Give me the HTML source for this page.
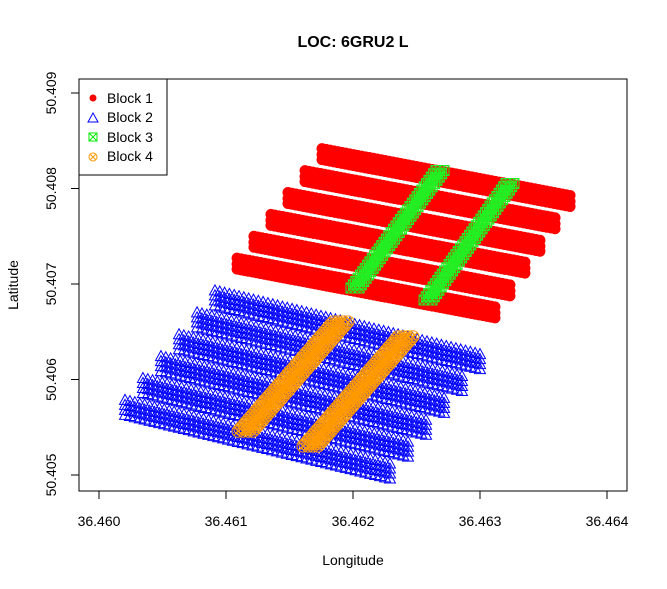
<!DOCTYPE html>
<html><head><meta charset="utf-8"><style>
body{margin:0;background:#fff}
svg{display:block;font-family:"Liberation Sans",Arial,sans-serif}
</style></head><body>
<svg id="chart" width="667" height="589" viewBox="0 0 667 589">
<text x="353" y="47" text-anchor="middle" font-size="16" font-weight="bold">LOC: 6GRU2 L</text>
<g id="marks"></g>
<rect x="79" y="79" width="548" height="412" fill="none" stroke="#000" stroke-width="1"/>
<g id="xaxis"></g>
<g id="yaxis"></g>
<text x="353" y="565" text-anchor="middle" font-size="14">Longitude</text>
<text x="0" y="0" transform="translate(18,285) rotate(-90)" text-anchor="middle" font-size="14">Latitude</text>
<g>
<rect x="79" y="79" width="88" height="96" fill="#fff" stroke="#000"/>
<g><circle cx="93" cy="98" r="3.5" fill="#f00"/><text x="107" y="103" font-size="14">Block 1</text></g>
<g><path d="M93,113 L98,122 L88,122 Z" fill="none" stroke="#00f"/><text x="107" y="122" font-size="14">Block 2</text></g>
<g><rect x="89" y="133" width="8" height="8" fill="none" stroke="#0e0"/><path d="M89,133 L97,141 M97,133 L89,141" stroke="#0e0"/><text x="107" y="142" font-size="14">Block 3</text></g>
<g><circle cx="93" cy="157" r="4" fill="none" stroke="#f90"/><path d="M90,154 L96,160 M96,154 L90,160" stroke="#f90"/><text x="107" y="161" font-size="14">Block 4</text></g>
</g>
</svg>
<script>
const xTicks=[36.460,36.461,36.462,36.463,36.464];
const yTicks=[50.405,50.406,50.407,50.408,50.409];
// Block 1 rows (red): start/end lon/lat
const redStartLon=[36.461756,36.461622,36.461488,36.461354,36.461220,36.461087];
const redStartLat=[50.408365,50.408135,50.407906,50.407677,50.407448,50.407219];
const redEndLon=[36.463709,36.463591,36.463472,36.463354,36.463236,36.463118];
const redEndLat=[50.407875,50.407641,50.407406,50.407177,50.406938,50.406708];
// Block 2 rows (blue)
const blueStartLon=[36.460913,36.460772,36.460630,36.460488,36.460346,36.460205];
const blueStartLat=[50.406865,50.406635,50.406406,50.406177,50.405948,50.405719];
const blueEndLon=[36.463000,36.462858,36.462717,36.462575,36.462433,36.462291];
const blueEndLat=[50.406198,50.405969,50.405740,50.405510,50.405281,50.405052];
// Block 3 bands (green)
const greenStartLon=[36.462685,36.463236];
const greenStartLat=[50.408188,50.408052];
const greenEndLon=[36.462016,36.462591];
const greenEndLat=[50.406958,50.406833];
// Block 4 bands (orange)
const orangeStartLon=[36.461898,36.462409];
const orangeStartLat=[50.406604,50.406448];
const orangeEndLon=[36.461150,36.461661];
const orangeEndLat=[50.405458,50.405302];

const X=v=>99+(v-36.460)*127000;
const Y=v=>475-(v-50.405)*95500;
const NS='http://www.w3.org/2000/svg';
const mk=(t,a,p)=>{const e=document.createElementNS(NS,t);for(const k in a)e.setAttribute(k,a[k]);p.appendChild(e);return e;};
const xa=document.getElementById('xaxis'),ya=document.getElementById('yaxis'),marks=document.getElementById('marks');
mk('line',{x1:X(xTicks[0]),x2:X(xTicks[xTicks.length-1]),y1:491,y2:491,stroke:'#000'},xa);
xTicks.forEach(t=>{const x=X(t);
 mk('line',{x1:x,x2:x,y1:491,y2:499,stroke:'#000'},xa);
 const tx=mk('text',{x:x,y:526,'text-anchor':'middle','font-size':14},xa);tx.textContent=t.toFixed(3);
 
 });
mk('line',{x1:79,x2:79,y1:Y(yTicks[0]),y2:Y(yTicks[yTicks.length-1]),stroke:'#000'},ya);
yTicks.forEach(t=>{const y=Y(t);
 mk('line',{x1:71,x2:79,y1:y,y2:y,stroke:'#000'},ya);
 const tx=mk('text',{x:0,y:0,transform:`translate(56,${y}) rotate(-90)`,'text-anchor':'middle','font-size':14},ya);tx.textContent=t.toFixed(3);
 
 });

function drawSeries(sLon,sLat,eLon,eLat,offs,step,shape,name){
 const g=mk('g',{},marks);
 
 
 let d='';
 for(let i=0;i<sLon.length;i++){
  const x1=X(sLon[i]),y1=Y(sLat[i]),x2=X(eLon[i]),y2=Y(eLat[i]);
  const len=Math.hypot(x2-x1,y2-y1),n=Math.max(1,Math.round(len/step));
  offs.forEach(o=>{for(let k=0;k<=n;k++){const x=x1+(x2-x1)*k/n+o[0],y=y1+(y2-y1)*k/n+o[1];d+=shape(x,y);}});
 }
 return {g,d};
}
let r=drawSeries(redStartLon,redStartLat,redEndLon,redEndLat,[[0,-5],[0,1],[0,6]],4,(x,y)=>`M${x-5.5},${y}a5.5,5.5 0 1,0 11,0a5.5,5.5 0 1,0 -11,0`,'block-1-points');
mk('path',{d:r.d,fill:'#f00'},r.g);
let b=drawSeries(blueStartLon,blueStartLat,blueEndLon,blueEndLat,[[0,-6],[0,-1],[0,4],[0,9]],5,(x,y)=>`M${x},${y-6}L${x+5.5},${y+4}L${x-5.5},${y+4}Z`,'block-2-points');
mk('path',{d:b.d,fill:'none',stroke:'#00f','stroke-width':1},b.g);
let gr=drawSeries(greenStartLon,greenStartLat,greenEndLon,greenEndLat,[[-4,0],[0,0],[4,0]],4,(x,y)=>`M${x-5},${y-5}h10v10h-10ZM${x-5},${y-5}L${x+5},${y+5}M${x+5},${y-5}L${x-5},${y+5}`,'block-3-points');
mk('path',{d:gr.d,fill:'none',stroke:'#2e2','stroke-width':1},gr.g);
let o=drawSeries(orangeStartLon,orangeStartLat,orangeEndLon,orangeEndLat,[[-7,0],[-2,0],[3,0],[8,0]],3,(x,y)=>`M${x-6},${y}a6,6 0 1,0 12,0a6,6 0 1,0 -12,0M${x-4},${y-4}L${x+4},${y+4}M${x+4},${y-4}L${x-4},${y+4}`,'block-4-points');
mk('path',{d:o.d,fill:'none',stroke:'#f90','stroke-width':1},o.g);
</script>
</body></html>
